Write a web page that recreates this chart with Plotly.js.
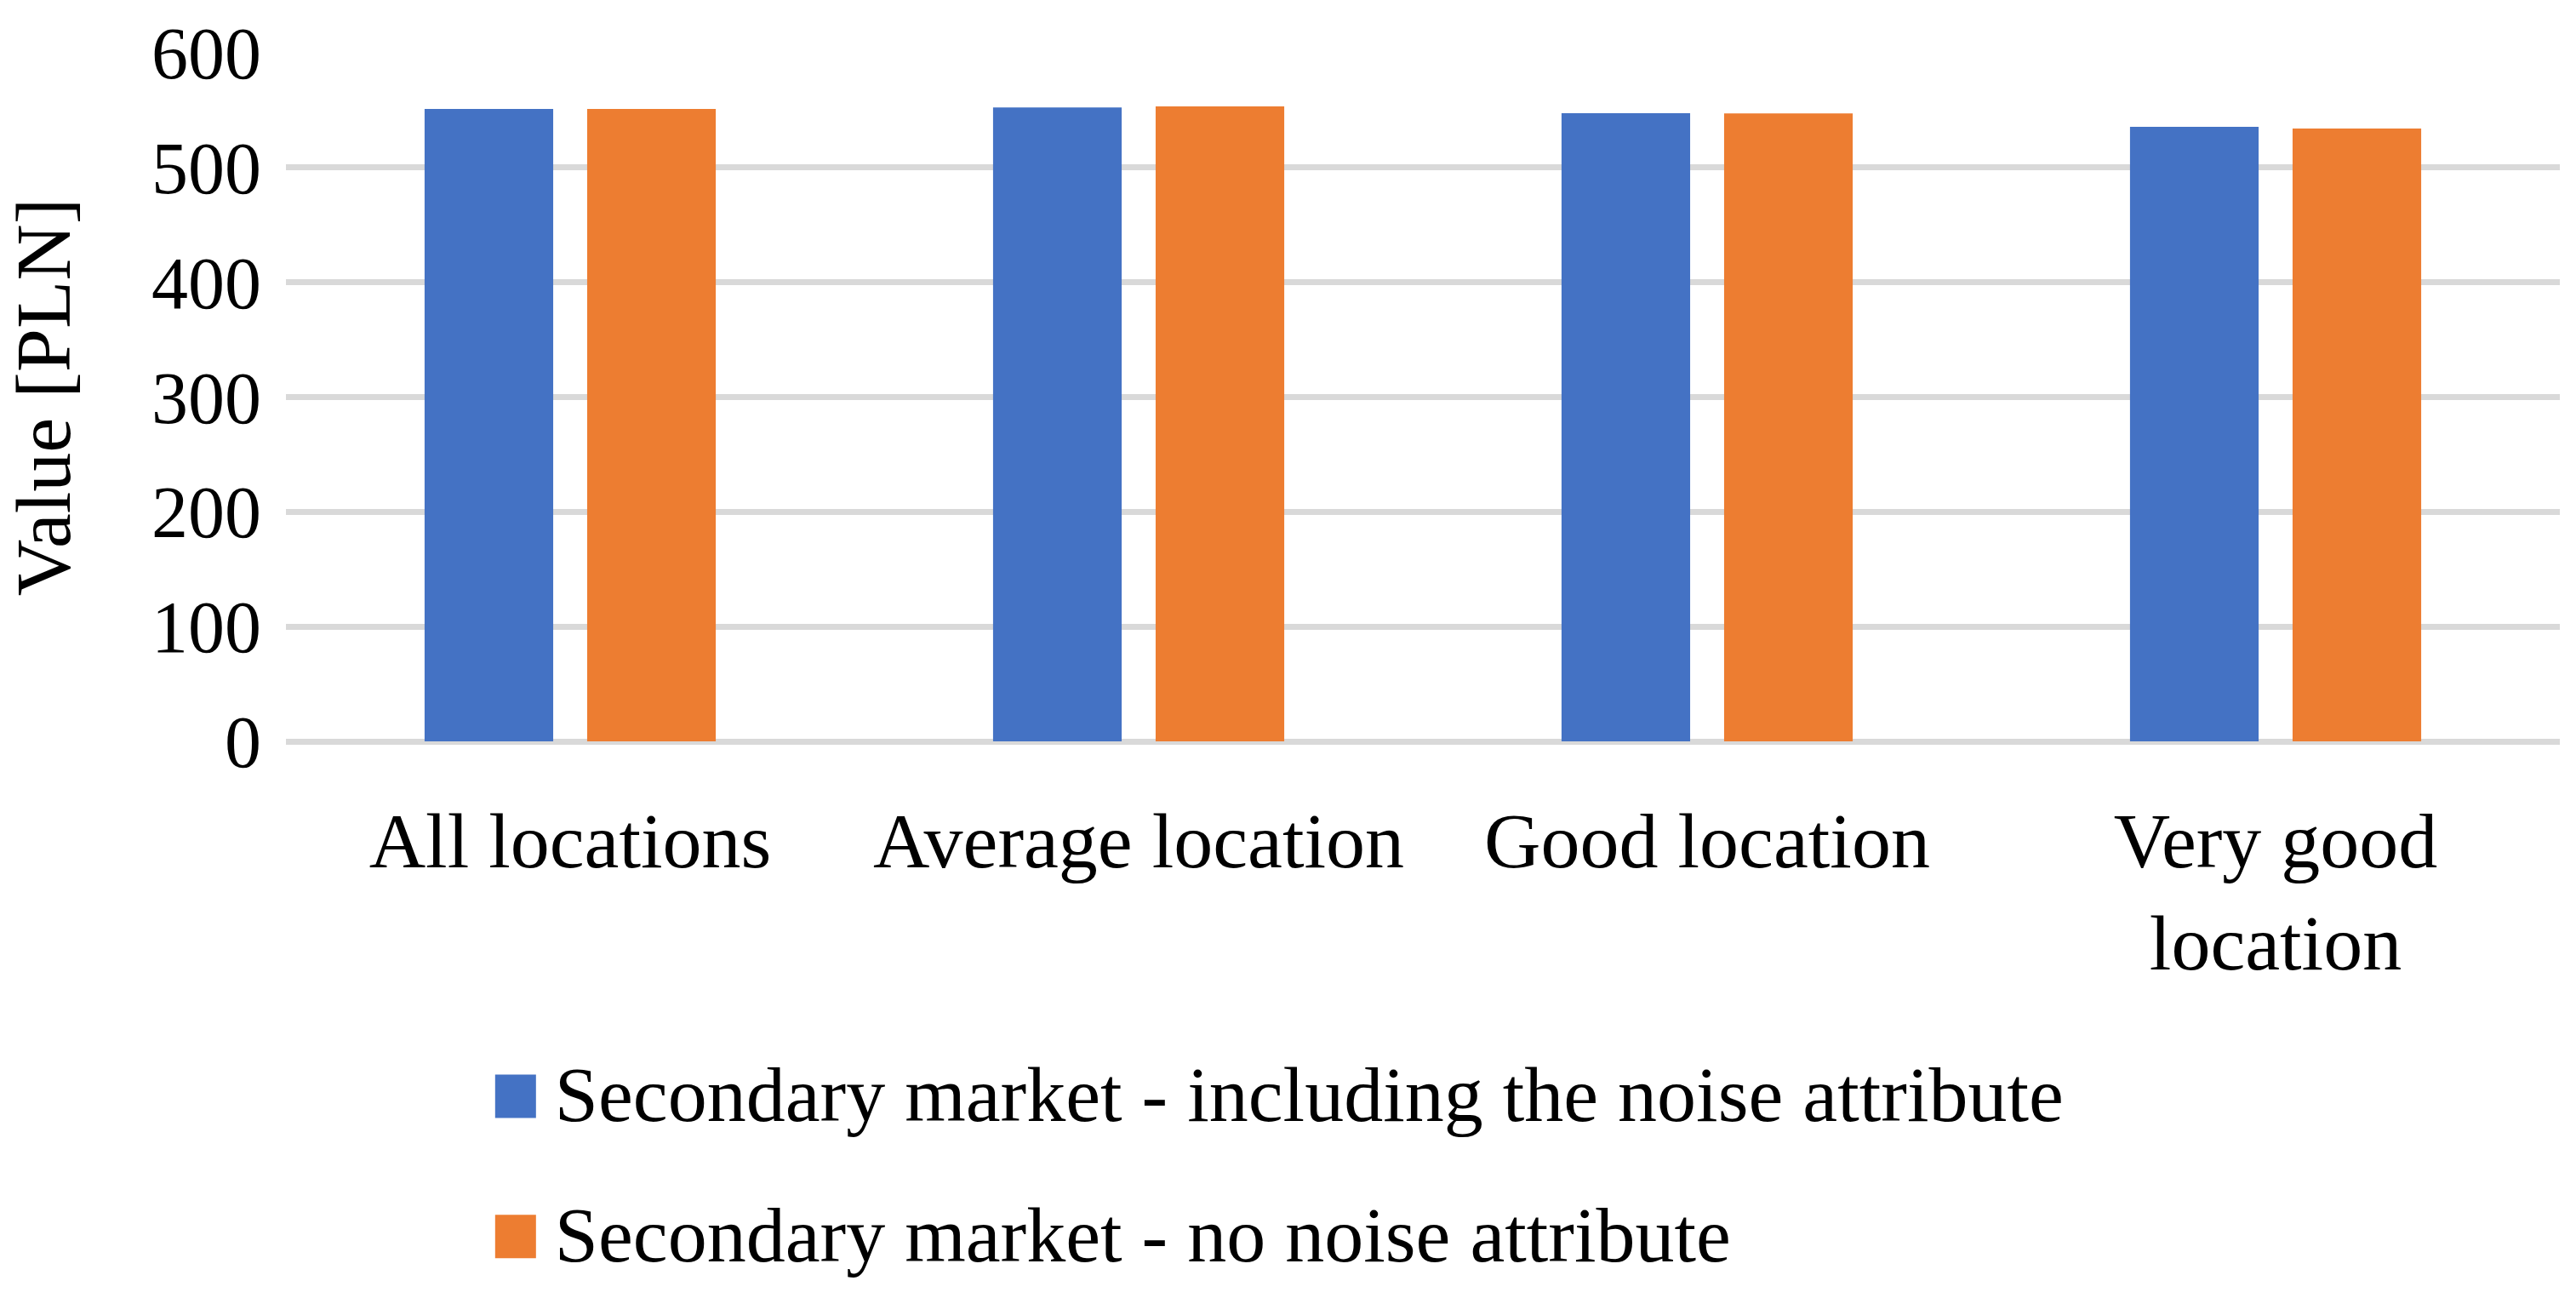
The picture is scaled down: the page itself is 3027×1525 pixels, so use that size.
<!DOCTYPE html>
<html>
<head>
<meta charset="utf-8" />
<script src="https://cdn.plot.ly/plotly-3.0.1.min.js"></script>
<style>
  html, body { margin: 0; padding: 0; background: #ffffff; }
  #plot { width: 3027px; height: 1525px; }
</style>
</head>
<body>
<div id="plot"></div>
<script>
const categories = ["All locations", "Average location", "Good location", "Very good<br>location"];
const seriesNames = [
  "Secondary market - including the noise attribute",
  "Secondary market - no noise attribute",
];
const withNoise = [551, 552.4, 547.3, 535.4];
const noNoise = [551, 553.2, 547.2, 534];
const yTicks = [0, 100, 200, 300, 400, 500, 600];

const FONT = "Liberation Serif, Times New Roman, serif";
const GRID = "#d9d9d9";
const SWATCH = 51;

const traces = [
  {
    type: "bar",
    name: seriesNames[0],
    x: categories,
    y: withNoise,
    legendgroup: "a",
    marker: { color: "#4472c4" },
    hoverinfo: "x+y",
  },
  {
    type: "bar",
    name: seriesNames[1],
    x: categories,
    y: noNoise,
    legendgroup: "b",
    marker: { color: "#ed7d31" },
    hoverinfo: "x+y",
  },
];

const layout = {
  width: 3027,
  height: 1525,
  paper_bgcolor: "#ffffff",
  plot_bgcolor: "#ffffff",
  font: { family: FONT, color: "#000000", size: 92 },
  margin: { l: 336, r: 19, t: 62, b: 650 },
  barmode: "group",
  bargap: 0.428,
  bargroupgap: 0.209,
  xaxis: {
    type: "category",
    showgrid: false,
    showline: false,
    zeroline: false,
    ticks: "",
    ticklabelstandoff: 55,
    tickfont: { family: FONT, size: 92, color: "#000000" },
    automargin: false,
  },
  yaxis: {
    range: [0, 600],
    tickvals: yTicks,
    ticktext: yTicks.map(String),
    showgrid: true,
    gridcolor: GRID,
    gridwidth: 7,
    zeroline: true,
    zerolinecolor: GRID,
    zerolinewidth: 7,
    showline: false,
    ticks: "",
    ticklabelstandoff: 28,
    tickfont: { family: FONT, size: 86, color: "#000000" },
    title: { text: "Value [PLN]", font: { family: FONT, size: 92, color: "#000000" }, standoff: 92 },
    automargin: false,
  },
  showlegend: true,
  legend: {
    orientation: "v",
    x: 0.092,
    xanchor: "left",
    y: -0.425,
    yanchor: "top",
    traceorder: "grouped",
    tracegroupgap: 42,
    itemwidth: 60,
    font: { family: FONT, size: 92, color: "#000000" },
    bgcolor: "rgba(0,0,0,0)",
  },
};

// plotly keeps the bar legend swatch small, the original has ~51px squares
function growLegendSwatches() {
  const items = document.querySelectorAll("#plot g.legend g.traces");
  items.forEach((item) => {
    const path = item.querySelector("g.legendpoints path");
    const text = item.querySelector("text.legendtext");
    if (!path || !text) return;
    path.setAttribute("d", `M${SWATCH / 2},${SWATCH / 2}H${-SWATCH / 2}V${-SWATCH / 2}H${SWATCH / 2}Z`);
    path.removeAttribute("transform");
    path.style.strokeWidth = "0px";
    const pr = path.getBoundingClientRect();
    const tr = text.getBoundingClientRect();
    const cx = pr.left + pr.width / 2;
    const cy = pr.top + pr.height / 2;
    const dx = tr.left - 22 - SWATCH / 2 - cx;
    const dy = tr.top + tr.height * 0.52 - cy;
    path.setAttribute("transform", `translate(${dx},${dy})`);
  });
}

Plotly.newPlot("plot", traces, layout, { displayModeBar: false, staticPlot: true }).then((gd) => {
  growLegendSwatches();
  gd.on("plotly_afterplot", growLegendSwatches);
});
</script>
</body>
</html>
